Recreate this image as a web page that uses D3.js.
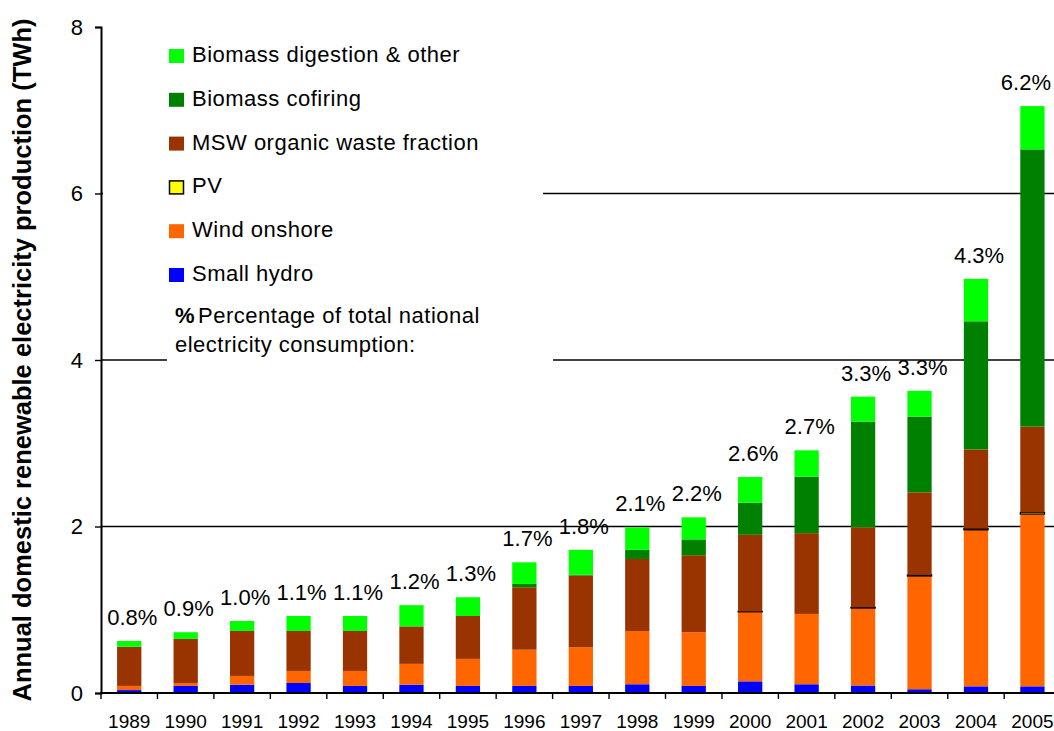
<!DOCTYPE html>
<html>
<head>
<meta charset="utf-8">
<script src="https://cdn.jsdelivr.net/npm/d3@7"></script>
<style>
  body { margin: 0; background: #fff; }
  svg { display: block; font-family: Arial, "Liberation Sans", sans-serif; }
</style>
</head>
<body>
<div id="chart"></div>
<script>
// values (TWh)
var years = ["1989", "1990", "1991", "1992", "1993", "1994", "1995", "1996", "1997",
             "1998", "1999", "2000", "2001", "2002", "2003", "2004", "2005"];
var hydro     = [0.035, 0.085, 0.10, 0.12, 0.085, 0.10, 0.085, 0.085, 0.085, 0.105, 0.085, 0.14, 0.105, 0.09, 0.045, 0.08, 0.08];
var wind      = [0.05, 0.035, 0.105, 0.145, 0.18, 0.25, 0.325, 0.435, 0.465, 0.64, 0.645, 0.835, 0.845, 0.93, 1.36, 1.88, 2.07];
var pv        = [0, 0, 0, 0, 0, 0, 0, 0, 0, 0, 0, 0.005, 0, 0.01, 0.015, 0.015, 0.02];
var msw       = [0.47, 0.53, 0.54, 0.48, 0.48, 0.45, 0.515, 0.75, 0.86, 0.865, 0.925, 0.92, 0.97, 0.96, 0.99, 0.95, 1.03];
var cofiring  = [0, 0, 0, 0, 0, 0, 0, 0.04, 0.01, 0.11, 0.19, 0.385, 0.68, 1.27, 0.91, 1.54, 3.33];
var digestion = [0.07, 0.08, 0.12, 0.18, 0.18, 0.255, 0.225, 0.26, 0.30, 0.27, 0.265, 0.31, 0.315, 0.30, 0.31, 0.51, 0.52];
var shares = ["0.8%", "0.9%", "1.0%", "1.1%", "1.1%", "1.2%", "1.3%", "1.7%", "1.8%",
              "2.1%", "2.2%", "2.6%", "2.7%", "3.3%", "3.3%", "4.3%", "6.2%"];
var yTicks = [0, 2, 4, 6, 8];

var seriesKeys = ["hydro", "wind", "pv", "msw", "cofiring", "digestion"];
var seriesNames = {
    digestion: "Biomass digestion & other",
    cofiring: "Biomass cofiring",
    msw: "MSW organic waste fraction",
    pv: "PV",
    wind: "Wind onshore",
    hydro: "Small hydro"
};
var colors = {
    hydro: "#0000ff", wind: "#ff6600", pv: "#ffff00",
    msw: "#993300", cofiring: "#008000", digestion: "#00ff00"
};

var rows = years.map(function (y, i) {
    return { year: y, hydro: hydro[i], wind: wind[i], pv: pv[i], msw: msw[i],
             cofiring: cofiring[i], digestion: digestion[i] };
});

var width = 1054, height = 731;
var x0 = 101, y0 = 693, yTop = 27;
var band = 56.45;
var font = "Arial, 'Liberation Sans', sans-serif";

var svg = d3.select("#chart").append("svg")
    .attr("width", width)
    .attr("height", height);

var x = d3.scaleBand()
    .domain(years)
    .range([x0, x0 + band * years.length])
    .paddingInner(0.57)
    .paddingOuter(0.285);

var xEdges = d3.scaleBand().domain(years).range([x0, x0 + band * years.length]);

var y = d3.scaleLinear().domain([0, 8]).range([y0, yTop]);

// gridlines
svg.append("g")
    .selectAll("line")
    .data([2, 4, 6])
    .enter().append("line")
    .attr("x1", x0).attr("x2", width)
    .attr("y1", function (d) { return y(d); })
    .attr("y2", function (d) { return y(d); })
    .attr("stroke", "#000")
    .attr("stroke-width", 1.4);

// stacked bars
var stacked = d3.stack().keys(seriesKeys)(rows);

var layers = svg.append("g")
    .selectAll("g")
    .data(stacked)
    .enter().append("g")
    .attr("fill", function (d) { return colors[d.key]; });

layers.selectAll("rect")
    .data(function (d) { return d.map(function (p) { p.key = d.key; return p; }); })
    .enter().append("rect")
    .filter(function (d) { return d[1] - d[0] > 0; })
    .attr("x", function (d) { return x(d.data.year); })
    .attr("width", x.bandwidth())
    .attr("y", function (d) { return y(d[1]); })
    .attr("height", function (d) { return y(d[0]) - y(d[1]); })
    .attr("stroke", function (d) { return d.key === "pv" ? "#000" : "none"; })
    .attr("stroke-width", 1.2);

// percentage labels over bars
var totals = rows.map(function (r) {
    return seriesKeys.reduce(function (s, k) { return s + r[k]; }, 0);
});
svg.append("g")
    .selectAll("text")
    .data(years)
    .enter().append("text")
    .attr("y", function (d, i) { return y(totals[i]) - 16; })
    .attr("text-anchor", "middle")
    .attr("font-size", 22)
    .attr("fill", "#000")
    .text(function (d, i) { return shares[i]; })
    .attr("x", function (d) {
        var half = this.getComputedTextLength() / 2;
        return Math.min(x(d) + x.bandwidth() / 2 + 3, width - half - 3);
    });

// y axis
var yAxis = d3.axisLeft(y).tickValues(yTicks).tickSize(6).tickPadding(12);
var gy = svg.append("g")
    .attr("transform", "translate(" + x0 + ",0)")
    .call(yAxis);
gy.select(".domain").attr("stroke-width", 2);
gy.selectAll(".tick line").attr("stroke-width", 1.4);
gy.selectAll(".tick text").attr("font-size", 22).attr("font-family", font).attr("fill", "#000");

// x axis: ticks sit on the category edges
var xAxis = d3.axisBottom(xEdges).tickSize(0).tickPadding(22);
var gx = svg.append("g")
    .attr("transform", "translate(0," + y0 + ")")
    .call(xAxis);
gx.select(".domain").remove();
gx.selectAll(".tick text").attr("font-size", 19).attr("font-family", font).attr("fill", "#000");

svg.append("line")
    .attr("x1", x0 - 1).attr("x2", width)
    .attr("y1", y0).attr("y2", y0)
    .attr("stroke", "#000").attr("stroke-width", 2);

svg.append("g")
    .selectAll("line")
    .data(years)
    .enter().append("line")
    .attr("x1", function (d) { return xEdges(d); })
    .attr("x2", function (d) { return xEdges(d); })
    .attr("y1", y0).attr("y2", y0 + 6)
    .attr("stroke", "#000").attr("stroke-width", 1.4);

// y axis title
svg.append("text")
    .attr("transform", "translate(31," + (y0 + yTop) / 2 + ") rotate(-90)")
    .attr("text-anchor", "middle")
    .attr("font-size", 25.5)
    .attr("font-weight", "bold")
    .attr("fill", "#000")
    .text("Annual domestic renewable electricity production (TWh)");

// legend (white boxes hide the gridlines behind it)
svg.append("rect")
    .attr("x", x0 + 2).attr("y", 30).attr("width", 440).attr("height", 270)
    .attr("fill", "#fff");
svg.append("rect")
    .attr("x", 167).attr("y", 296).attr("width", 386).attr("height", 72)
    .attr("fill", "#fff");

var legendKeys = ["digestion", "cofiring", "msw", "pv", "wind", "hydro"];
var legend = svg.append("g")
    .selectAll("g")
    .data(legendKeys)
    .enter().append("g")
    .attr("transform", function (d, i) { return "translate(169," + (62 + i * 43.8) + ")"; });

legend.append("rect")
    .attr("x", function (d) { return d === "pv" ? 0.5 : 0; })
    .attr("y", function (d) { return d === "pv" ? -12.5 : -13; })
    .attr("width", function (d) { return d === "pv" ? 14 : 15; })
    .attr("height", function (d) { return d === "pv" ? 13 : 14; })
    .attr("fill", function (d) { return colors[d]; })
    .attr("stroke", function (d) { return d === "pv" ? "#000" : "none"; })
    .attr("stroke-width", 1.5);

legend.append("text")
    .attr("x", 23)
    .attr("font-size", 22)
    .attr("letter-spacing", 0.5)
    .attr("fill", "#000")
    .text(function (d) { return seriesNames[d]; });

var note = svg.append("text")
    .attr("x", 175).attr("y", 323)
    .attr("font-size", 22)
    .attr("letter-spacing", 0.5)
    .attr("fill", "#000");
note.append("tspan").attr("font-weight", "bold").text("%");
note.append("tspan").attr("dx", 3).text("Percentage of total national");
svg.append("text")
    .attr("x", 175).attr("y", 352)
    .attr("font-size", 22)
    .attr("letter-spacing", 0.5)
    .attr("fill", "#000")
    .text("electricity consumption:");
</script>
</body>
</html>
